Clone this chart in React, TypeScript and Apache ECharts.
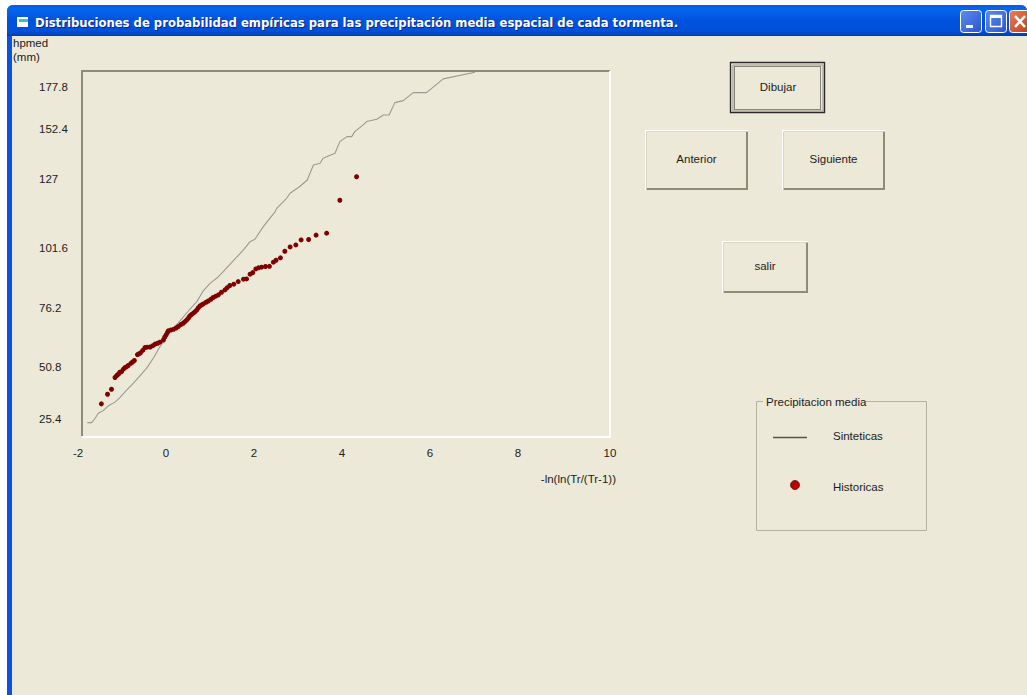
import React, { useEffect, useRef } from "react";
import * as echarts from "echarts";

const syntheticSeries: [number, number][] = [
  [-1.88, 23.7], [-1.78, 23.7], [-1.7, 25.7], [-1.63, 28.0], [-1.52, 29.2], [-1.4, 31.4], [-1.25, 33.1], [-1.14, 35.2],
  [-0.98, 38.7], [-0.83, 41.8], [-0.68, 45.3], [-0.53, 48.7], [-0.38, 53.2], [-0.27, 57.1], [-0.15, 60.9], [0, 65.4],
  [0.15, 68.5], [0.3, 72.1], [0.45, 75.7], [0.61, 79.2], [0.76, 84.3], [0.91, 87.6], [1.06, 89.9], [1.21, 93.0],
  [1.44, 98.0], [1.67, 102.9], [1.82, 106.7], [1.93, 107.8], [2.12, 113.6], [2.39, 120.5], [2.43, 122.1], [2.65, 126.6],
  [2.73, 128.9], [2.95, 132.0], [3.12, 135.0], [3.26, 141.9], [3.41, 142.7], [3.48, 145.0], [3.75, 147.3], [3.86, 152.6],
  [4.02, 154.9], [4.13, 154.9], [4.2, 157.2], [4.39, 160.3], [4.47, 161.8], [4.7, 162.9], [4.85, 164.8], [4.98, 164.8],
  [5.11, 170.5], [5.3, 171.4], [5.53, 175.1], [5.83, 175.1], [6.21, 181.4], [6.93, 184.4],
];

const historicSeries: [number, number][] = [
  [-1.56, 32.3], [-1.42, 36.7], [-1.33, 39.0], [-1.25, 44.4], [-1.21, 45.3], [-1.17, 46.0], [-1.14, 46.8], [-1.1, 47.1],
  [-1.06, 48.2], [-1.02, 49.0], [-0.98, 49.4], [-0.95, 49.9], [-0.89, 50.9], [-0.85, 51.5], [-0.81, 52.2], [-0.74, 54.9],
  [-0.71, 55.2], [-0.67, 55.7], [-0.62, 56.8], [-0.57, 58.1], [-0.52, 58.3], [-0.45, 58.4], [-0.39, 59.0], [-0.34, 59.7],
  [-0.28, 60.1], [-0.23, 60.6], [-0.15, 61.6], [-0.12, 62.9], [-0.09, 63.9], [-0.06, 65.0], [-0.04, 65.8], [0.02, 66.2],
  [0.08, 66.5], [0.14, 67.1], [0.19, 67.8], [0.25, 68.7], [0.3, 69.3], [0.34, 70.0], [0.38, 70.8], [0.42, 71.7],
  [0.45, 72.6], [0.49, 73.3], [0.53, 73.9], [0.57, 74.6], [0.61, 75.4], [0.64, 76.3], [0.68, 77.2], [0.72, 77.7],
  [0.76, 78.2], [0.82, 78.9], [0.87, 79.5], [0.93, 80.3], [0.98, 81.1], [1.04, 81.7], [1.1, 82.3], [1.17, 83.5],
  [1.25, 84.6], [1.3, 85.6], [1.36, 86.6], [1.45, 87.2], [1.55, 88.4], [1.67, 89.5], [1.74, 89.6], [1.82, 91.8],
  [1.88, 92.5], [1.95, 94.2], [2.01, 94.7], [2.08, 95.0], [2.17, 95.3], [2.26, 95.4], [2.35, 97.3], [2.41, 98.2],
  [2.51, 99.3], [2.61, 102.3], [2.73, 104.3], [2.86, 105.2], [2.98, 107.5], [3.15, 107.7], [3.32, 109.7], [3.56, 110.6],
  [3.86, 125.7], [4.24, 136.5],
];

// The form's y labels are hand-placed, so each label text sits at its own spot on the linear scale.
const yTickLabels = ["25.4", "50.8", "76.2", "101.6", "127", "152.4", "177.8"];
const yTickPlaces = [25.4, 49.3, 76.3, 103.8, 135.5, 158.4, 177.8];
const xTickLabels = ["-2", "0", "2", "4", "6", "8", "10"];

const FACE = "#ECE9D8";
const FONT = "'Liberation Sans', Arial, sans-serif";
const INK = "#1c1c1c";
const UI_SIZE = 11.5;
const TITLE_FONT = "bold 11.65px 'DejaVu Sans', Verdana, sans-serif";

function label(text: string, x: number, y: number, align = "center", fontSize = UI_SIZE) {
  return {
    type: "text", x, y, z: 10,
    style: { text, fill: INK, font: `${fontSize}px ${FONT}`, textAlign: align, textVerticalAlign: "middle" },
  };
}

function button(x: number, y: number, w: number, h: number, text: string) {
  return [
    { type: "rect", shape: { x, y, width: w, height: h }, style: { fill: "#FFFFFF" } },
    { type: "rect", shape: { x: x + 1.5, y: y + 1.5, width: w - 1.5, height: h - 1.5 }, style: { fill: "#8E8B78" } },
    { type: "rect", shape: { x: x + 1.5, y: y + 1.5, width: w - 3.5, height: h - 3.5 }, style: { fill: FACE } },
    label(text, x + w / 2, y + h / 2 - 1),
  ];
}

function capButton(x: number, fillTop: string, fillBottom: string) {
  return {
    type: "rect",
    shape: { x, y: 10.5, width: 21, height: 22, r: 3 },
    style: {
      stroke: "#FFFFFF", lineWidth: 1,
      fill: new echarts.graphic.LinearGradient(0, 0, 1, 1, [
        { offset: 0, color: fillTop }, { offset: 1, color: fillBottom },
      ]),
    },
  };
}

const titleText = "Distribuciones de probabilidad empíricas para las precipitación media espacial de cada tormenta.";

function windowChrome() {
  const blue = new echarts.graphic.LinearGradient(0, 0, 0, 1, [
    { offset: 0, color: "#0A5BE6" }, { offset: 0.12, color: "#0565EE" }, { offset: 0.5, color: "#0052DE" },
    { offset: 0.85, color: "#0150D8" }, { offset: 1, color: "#003CB0" },
  ]);
  return [
    { type: "rect", shape: { x: 0, y: 0, width: 1027, height: 695 }, style: { fill: "#FFFFFF" } },
    { type: "rect", shape: { x: 7, y: 5, width: 1020, height: 690, r: [6, 6, 0, 0] }, style: { fill: "#0A52E0" } },
    { type: "rect", shape: { x: 7, y: 5, width: 1020, height: 31, r: [6, 6, 0, 0] }, style: { fill: blue } },
    { type: "rect", shape: { x: 12, y: 36, width: 1015, height: 659 }, style: { fill: FACE } },
    { type: "rect", shape: { x: 17, y: 17, width: 11, height: 10 }, style: { fill: "#FFFFFF" } },
    { type: "rect", shape: { x: 19, y: 19, width: 9, height: 3 }, style: { fill: "#2FC8C8" } },
    {
      type: "text", x: 36, y: 24, z: 9,
      style: { text: titleText, fill: "#0A2A80", font: TITLE_FONT, textVerticalAlign: "middle" },
    },
    {
      type: "text", x: 35, y: 23, z: 10,
      style: { text: titleText, fill: "#FFFFFF", font: TITLE_FONT, textVerticalAlign: "middle" },
    },
    capButton(960.5, "#5C8CF0", "#2A55D0"),
    { type: "rect", shape: { x: 966, y: 25, width: 7, height: 3 }, style: { fill: "#FFFFFF" } },
    capButton(985.5, "#5C8CF0", "#2A55D0"),
    { type: "rect", shape: { x: 990.5, y: 15.5, width: 11, height: 11 }, style: { fill: "none", stroke: "#FFFFFF", lineWidth: 1.4 } },
    { type: "rect", shape: { x: 990, y: 15, width: 12, height: 3 }, style: { fill: "#FFFFFF" } },
    capButton(1009.5, "#E8805A", "#C23A18"),
    { type: "line", shape: { x1: 1015, y1: 16, x2: 1025, y2: 27 }, style: { stroke: "#FFFFFF", lineWidth: 2.6 } },
    { type: "line", shape: { x1: 1025, y1: 16, x2: 1015, y2: 27 }, style: { stroke: "#FFFFFF", lineWidth: 2.6 } },
  ];
}

function controls() {
  return [
    // Dibujar has the focus: dark outer border and a dotted inner rectangle.
    { type: "rect", shape: { x: 730.5, y: 62.5, width: 94, height: 50 }, style: { fill: FACE, stroke: "#2A2A2A", lineWidth: 1.4 } },
    { type: "rect", shape: { x: 733, y: 65, width: 90, height: 46 }, style: { fill: "none", stroke: "#9A978A", lineWidth: 1 } },
    { type: "rect", shape: { x: 734.5, y: 66.5, width: 86, height: 43 }, style: { fill: FACE, stroke: "#222222", lineWidth: 1, lineDash: [1, 1] } },
    label("Dibujar", 778, 87),
    ...button(645, 130, 103, 60, "Anterior"),
    ...button(782, 130, 103, 60, "Siguiente"),
    ...button(722, 241, 86, 52, "salir"),
  ];
}

function legendBox() {
  return [
    { type: "rect", shape: { x: 756.5, y: 401.5, width: 170, height: 129 }, style: { fill: "none", stroke: "#B5B2A2", lineWidth: 1 } },
    { type: "rect", shape: { x: 763, y: 395, width: 102, height: 12 }, style: { fill: FACE } },
    label("Precipitacion media", 766, 402, "left"),
    { type: "line", shape: { x1: 773, y1: 437.5, x2: 807, y2: 437.5 }, style: { stroke: "#555548", lineWidth: 1.5 } },
    label("Sinteticas", 833, 436, "left"),
    { type: "circle", shape: { cx: 795, cy: 485, r: 4.5 }, style: { fill: "#C00000", stroke: "#4A2020", lineWidth: 0.8 } },
    label("Historicas", 833, 487, "left"),
  ];
}

function plotCaptions() {
  return [
    label("hpmed", 13, 43, "left"),
    label("(mm)", 13, 57, "left"),
    label("-ln(ln(Tr/(Tr-1))", 616, 479, "right"),
    // Sunken frame: top in grey, right in white (left and bottom come from the axes).
    { type: "line", shape: { x1: 81, y1: 71, x2: 610, y2: 71 }, style: { stroke: "#8E8B78", lineWidth: 2 } },
    { type: "line", shape: { x1: 610, y1: 71, x2: 610, y2: 438 }, style: { stroke: "#FFFFFF", lineWidth: 2 } },
  ];
}

export default function App() {
  const ref = useRef<HTMLDivElement>(null);

  useEffect(() => {
    document.body.style.margin = "0";
    const chart = echarts.init(ref.current!, undefined, { renderer: "svg" });
    chart.setOption({
      animation: false,
      backgroundColor: FACE,
      grid: { left: 82, top: 71, width: 528, height: 366, containLabel: false },
      xAxis: {
        type: "value", min: -2, max: 10, interval: 2,
        axisLine: { onZero: false, lineStyle: { color: "#FFFFFF", width: 2 } },
        axisTick: { show: false },
        splitLine: { show: false },
        axisLabel: {
          margin: 10,
          formatter: (v: number) => {
            const t = xTickLabels[(v + 2) / 2];
            return t === "10" ? `{e|${t}}` : `{s|${t}}`;
          },
          rich: {
            s: { color: INK, fontFamily: FONT, fontSize: UI_SIZE, padding: [0, 8, 0, 0] },
            e: { color: INK, fontFamily: FONT, fontSize: UI_SIZE },
          },
          hideOverlap: false,
        },
      },
      yAxis: {
        type: "value", min: 17.1, max: 185,
        axisLine: { onZero: false, show: true, lineStyle: { color: "#8E8B78", width: 2 } },
        axisTick: { show: false },
        splitLine: { show: false },
        axisLabel: {
          customValues: yTickPlaces,
          align: "left", margin: 43,
          color: INK, fontFamily: FONT, fontSize: UI_SIZE,
          formatter: (v: number) => yTickLabels[yTickPlaces.indexOf(v)] ?? "",
        },
      },
      graphic: [
        { type: "group", silent: true, z: -1, children: windowChrome() },
        { type: "group", silent: true, children: controls() },
        { type: "group", silent: true, children: legendBox() },
        { type: "group", silent: true, children: plotCaptions() },
      ],
      series: [
        {
          name: "Sinteticas", type: "line", data: syntheticSeries, showSymbol: false, smooth: false, z: 3,
          lineStyle: { color: "#9A9A94", width: 1.1 },
        },
        {
          name: "Historicas", type: "scatter", data: historicSeries, symbol: "circle", symbolSize: 5, z: 4,
          itemStyle: { color: "#800000", opacity: 1 },
        },
      ],
    });
    return () => chart.dispose();
  }, []);

  return <div ref={ref} style={{ position: "fixed", left: 0, top: 0, width: 1027, height: 695 }} />;
}
